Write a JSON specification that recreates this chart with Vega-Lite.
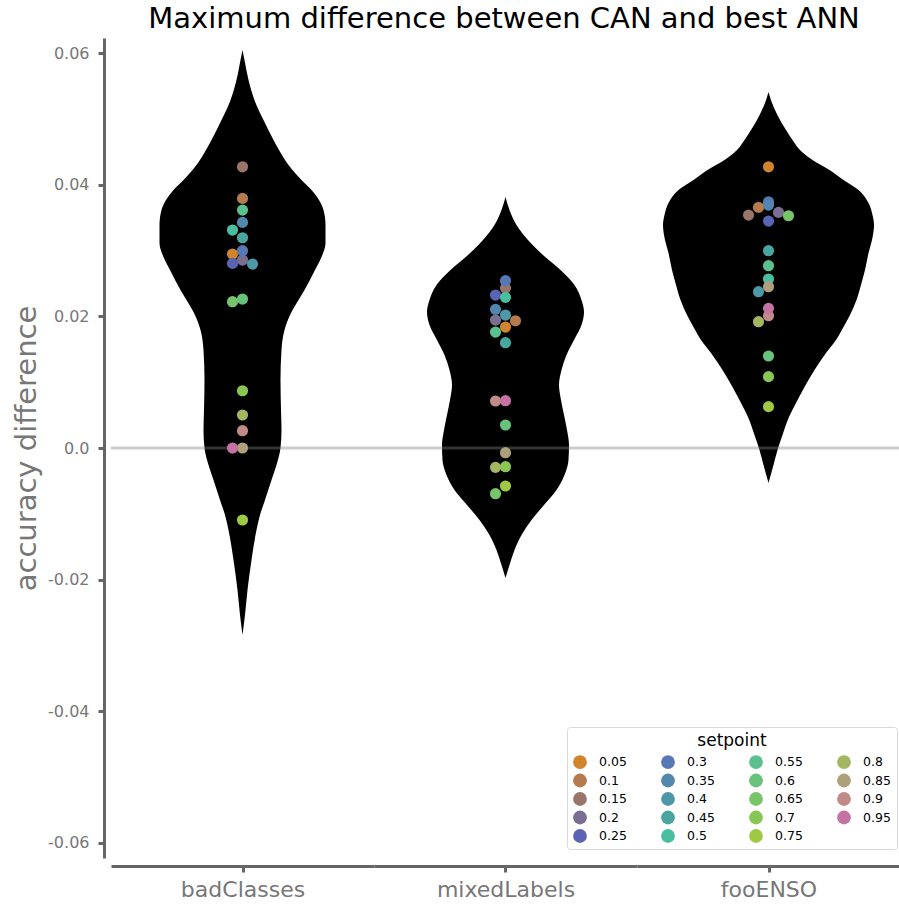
{
  "$schema": "https://vega.github.io/schema/vega-lite/v6.json",
  "background": "white",
  "autosize": {"type": "pad"},
  "padding": {"left": 12, "top": 5, "right": 0, "bottom": 0},
  "bounds": "flush",
  "title": {"text": "Maximum difference between CAN and best ANN", "fontSize": 29, "fontWeight": "normal", "color": "black", "anchor": "middle", "offset": 4, "dx": 47},
  "datasets": {
    "violin": [
      {"task": "badClasses", "value": 0.06046, "density": 0},
      {"task": "badClasses", "value": 0.05894, "density": 0.8},
      {"task": "badClasses", "value": 0.0559, "density": 2.4},
      {"task": "badClasses", "value": 0.05286, "density": 4.8},
      {"task": "badClasses", "value": 0.04983, "density": 8.4},
      {"task": "badClasses", "value": 0.04679, "density": 12.4},
      {"task": "badClasses", "value": 0.04527, "density": 14.6},
      {"task": "badClasses", "value": 0.04299, "density": 18.4},
      {"task": "badClasses", "value": 0.04071, "density": 23.6},
      {"task": "badClasses", "value": 0.03919, "density": 27.6},
      {"task": "badClasses", "value": 0.03767, "density": 30.6},
      {"task": "badClasses", "value": 0.03615, "density": 32.4},
      {"task": "badClasses", "value": 0.03388, "density": 33.2},
      {"task": "badClasses", "value": 0.03114, "density": 33.2},
      {"task": "badClasses", "value": 0.02901, "density": 31.6},
      {"task": "badClasses", "value": 0.02704, "density": 29},
      {"task": "badClasses", "value": 0.024, "density": 24.8},
      {"task": "badClasses", "value": 0.02248, "density": 22.4},
      {"task": "badClasses", "value": 0.02051, "density": 19.4},
      {"task": "badClasses", "value": 0.01793, "density": 16.8},
      {"task": "badClasses", "value": 0.01489, "density": 15.6},
      {"task": "badClasses", "value": 0.01033, "density": 15.2},
      {"task": "badClasses", "value": 0.00577, "density": 15.4},
      {"task": "badClasses", "value": 0.00273, "density": 15.6},
      {"task": "badClasses", "value": 0.0, "density": 15.2},
      {"task": "badClasses", "value": -0.00258, "density": 13.6},
      {"task": "badClasses", "value": -0.00486, "density": 11.6},
      {"task": "badClasses", "value": -0.0079, "density": 9},
      {"task": "badClasses", "value": -0.01018, "density": 7},
      {"task": "badClasses", "value": -0.01246, "density": 5.6},
      {"task": "badClasses", "value": -0.01701, "density": 3.6},
      {"task": "badClasses", "value": -0.02157, "density": 2},
      {"task": "badClasses", "value": -0.02537, "density": 1},
      {"task": "badClasses", "value": -0.02841, "density": 0},
      {"task": "mixedLabels", "value": 0.03813, "density": 0},
      {"task": "mixedLabels", "value": 0.03615, "density": 1.6},
      {"task": "mixedLabels", "value": 0.03388, "density": 4.4},
      {"task": "mixedLabels", "value": 0.0316, "density": 9},
      {"task": "mixedLabels", "value": 0.02932, "density": 15},
      {"task": "mixedLabels", "value": 0.02704, "density": 22},
      {"task": "mixedLabels", "value": 0.02476, "density": 27.6},
      {"task": "mixedLabels", "value": 0.02248, "density": 30.4},
      {"task": "mixedLabels", "value": 0.02066, "density": 31.4},
      {"task": "mixedLabels", "value": 0.01868, "density": 30.4},
      {"task": "mixedLabels", "value": 0.01641, "density": 27.4},
      {"task": "mixedLabels", "value": 0.01413, "density": 24.4},
      {"task": "mixedLabels", "value": 0.01185, "density": 22.4},
      {"task": "mixedLabels", "value": 0.00957, "density": 21.4},
      {"task": "mixedLabels", "value": 0.00729, "density": 22.2},
      {"task": "mixedLabels", "value": 0.00501, "density": 23.4},
      {"task": "mixedLabels", "value": 0.00273, "density": 24.6},
      {"task": "mixedLabels", "value": 0.00046, "density": 25.4},
      {"task": "mixedLabels", "value": -0.00182, "density": 25.2},
      {"task": "mixedLabels", "value": -0.0041, "density": 23.6},
      {"task": "mixedLabels", "value": -0.00638, "density": 20.4},
      {"task": "mixedLabels", "value": -0.00866, "density": 15.4},
      {"task": "mixedLabels", "value": -0.01094, "density": 10.4},
      {"task": "mixedLabels", "value": -0.01322, "density": 6.4},
      {"task": "mixedLabels", "value": -0.01549, "density": 3.6},
      {"task": "mixedLabels", "value": -0.01777, "density": 1.6},
      {"task": "mixedLabels", "value": -0.01975, "density": 0},
      {"task": "fooENSO", "value": 0.05408, "density": 0},
      {"task": "fooENSO", "value": 0.05286, "density": 1},
      {"task": "fooENSO", "value": 0.05058, "density": 3.6},
      {"task": "fooENSO", "value": 0.04831, "density": 7},
      {"task": "fooENSO", "value": 0.04679, "density": 9.6},
      {"task": "fooENSO", "value": 0.04527, "density": 12.6},
      {"task": "fooENSO", "value": 0.04375, "density": 17.6},
      {"task": "fooENSO", "value": 0.04223, "density": 24.4},
      {"task": "fooENSO", "value": 0.04071, "density": 30},
      {"task": "fooENSO", "value": 0.03919, "density": 36},
      {"task": "fooENSO", "value": 0.03722, "density": 40},
      {"task": "fooENSO", "value": 0.03539, "density": 41.6},
      {"task": "fooENSO", "value": 0.03388, "density": 42.2},
      {"task": "fooENSO", "value": 0.0316, "density": 41.4},
      {"task": "fooENSO", "value": 0.02962, "density": 40},
      {"task": "fooENSO", "value": 0.02704, "density": 38.6},
      {"task": "fooENSO", "value": 0.02506, "density": 37.2},
      {"task": "fooENSO", "value": 0.02248, "density": 35.2},
      {"task": "fooENSO", "value": 0.0202, "density": 32.6},
      {"task": "fooENSO", "value": 0.01838, "density": 30},
      {"task": "fooENSO", "value": 0.01641, "density": 27},
      {"task": "fooENSO", "value": 0.01443, "density": 23},
      {"task": "fooENSO", "value": 0.01185, "density": 18.4},
      {"task": "fooENSO", "value": 0.00927, "density": 14.4},
      {"task": "fooENSO", "value": 0.00684, "density": 11},
      {"task": "fooENSO", "value": 0.00471, "density": 8.2},
      {"task": "fooENSO", "value": 0.00197, "density": 5.6},
      {"task": "fooENSO", "value": -0.0003, "density": 3.6},
      {"task": "fooENSO", "value": -0.00258, "density": 2},
      {"task": "fooENSO", "value": -0.00532, "density": 0}
    ],
    "points": [
      {"task": "badClasses", "setpoint": "0.05", "value": 0.02947},
      {"task": "badClasses", "setpoint": "0.1", "value": 0.03793},
      {"task": "badClasses", "setpoint": "0.15", "value": 0.04273},
      {"task": "badClasses", "setpoint": "0.2", "value": 0.02856},
      {"task": "badClasses", "setpoint": "0.25", "value": 0.02805},
      {"task": "badClasses", "setpoint": "0.3", "value": 0.02998},
      {"task": "badClasses", "setpoint": "0.35", "value": 0.03428},
      {"task": "badClasses", "setpoint": "0.4", "value": 0.02795},
      {"task": "badClasses", "setpoint": "0.45", "value": 0.03195},
      {"task": "badClasses", "setpoint": "0.5", "value": 0.03312},
      {"task": "badClasses", "setpoint": "0.55", "value": 0.03615},
      {"task": "badClasses", "setpoint": "0.6", "value": 0.02263},
      {"task": "badClasses", "setpoint": "0.65", "value": 0.02223},
      {"task": "badClasses", "setpoint": "0.7", "value": 0.0087},
      {"task": "badClasses", "setpoint": "0.75", "value": -0.01094},
      {"task": "badClasses", "setpoint": "0.8", "value": 0.00501},
      {"task": "badClasses", "setpoint": "0.85", "value": 0.0},
      {"task": "badClasses", "setpoint": "0.9", "value": 0.00263},
      {"task": "badClasses", "setpoint": "0.95", "value": 0.0},
      {"task": "mixedLabels", "setpoint": "0.05", "value": 0.01838},
      {"task": "mixedLabels", "setpoint": "0.1", "value": 0.01934},
      {"task": "mixedLabels", "setpoint": "0.15", "value": 0.0243},
      {"task": "mixedLabels", "setpoint": "0.2", "value": 0.01944},
      {"task": "mixedLabels", "setpoint": "0.25", "value": 0.02324},
      {"task": "mixedLabels", "setpoint": "0.3", "value": 0.02542},
      {"task": "mixedLabels", "setpoint": "0.35", "value": 0.02107},
      {"task": "mixedLabels", "setpoint": "0.4", "value": 0.0202},
      {"task": "mixedLabels", "setpoint": "0.45", "value": 0.016},
      {"task": "mixedLabels", "setpoint": "0.5", "value": 0.02289},
      {"task": "mixedLabels", "setpoint": "0.55", "value": 0.01762},
      {"task": "mixedLabels", "setpoint": "0.6", "value": 0.00349},
      {"task": "mixedLabels", "setpoint": "0.65", "value": -0.00694},
      {"task": "mixedLabels", "setpoint": "0.7", "value": -0.00284},
      {"task": "mixedLabels", "setpoint": "0.75", "value": -0.00577},
      {"task": "mixedLabels", "setpoint": "0.8", "value": -0.00294},
      {"task": "mixedLabels", "setpoint": "0.85", "value": -0.00071},
      {"task": "mixedLabels", "setpoint": "0.9", "value": 0.00714},
      {"task": "mixedLabels", "setpoint": "0.95", "value": 0.00719},
      {"task": "fooENSO", "setpoint": "0.05", "value": 0.04273},
      {"task": "fooENSO", "setpoint": "0.1", "value": 0.03656},
      {"task": "fooENSO", "setpoint": "0.15", "value": 0.03539},
      {"task": "fooENSO", "setpoint": "0.2", "value": 0.0358},
      {"task": "fooENSO", "setpoint": "0.25", "value": 0.03448},
      {"task": "fooENSO", "setpoint": "0.3", "value": 0.03742},
      {"task": "fooENSO", "setpoint": "0.35", "value": 0.03691},
      {"task": "fooENSO", "setpoint": "0.4", "value": 0.02375},
      {"task": "fooENSO", "setpoint": "0.45", "value": 0.02998},
      {"task": "fooENSO", "setpoint": "0.5", "value": 0.02567},
      {"task": "fooENSO", "setpoint": "0.55", "value": 0.0277},
      {"task": "fooENSO", "setpoint": "0.6", "value": 0.01398},
      {"task": "fooENSO", "setpoint": "0.65", "value": 0.03529},
      {"task": "fooENSO", "setpoint": "0.7", "value": 0.01084},
      {"task": "fooENSO", "setpoint": "0.75", "value": 0.00628},
      {"task": "fooENSO", "setpoint": "0.8", "value": 0.01919},
      {"task": "fooENSO", "setpoint": "0.85", "value": 0.0245},
      {"task": "fooENSO", "setpoint": "0.9", "value": 0.0201},
      {"task": "fooENSO", "setpoint": "0.95", "value": 0.02122}
    ]
  },
  "spacing": 0,
  "hconcat": [
    {
      "width": 263, "height": 820,
      "layer": [
        {
          "data": {"name": "violin"},
          "transform": [{"filter": {"field": "task", "equal": "badClasses"}}],
          "mark": {"type": "area", "orient": "horizontal", "color": "black", "opacity": 1, "interpolate": "monotone"},
          "encoding": {
            "y": {"field": "value", "type": "quantitative", "title": "accuracy difference", "scale": {"domain": [-0.0623, 0.0623], "nice": false, "zero": false}, "axis": {"values": [-0.06, -0.04, -0.02, 0, 0.02, 0.04, 0.06], "labelExpr": "datum.value == 0 ? '0.0' : (datum.value < 0 ? '-' + format(-datum.value, '.2f') : format(datum.value, '.2f'))"}},
            "x": {"field": "density", "type": "quantitative", "stack": "center", "title": "badClasses", "scale": {"domain": [-9.7, 42.9], "nice": false, "zero": false}, "axis": {"values": [16.6], "labels": false}}
          }
        },
        {
          "data": {"name": "violin"},
          "transform": [{"filter": {"field": "task", "equal": "badClasses"}}, {"aggregate": [{"op": "count", "as": "n"}]}],
          "mark": {"type": "rule", "color": "#808080", "opacity": 0.4, "strokeWidth": 3},
          "encoding": {"y": {"datum": 0, "type": "quantitative", "title": "accuracy difference"}}
        },
        {
          "data": {"name": "points"},
          "transform": [
            {"filter": {"field": "task", "equal": "badClasses"}},
            {"bin": {"step": 0.002, "anchor": 0.001}, "field": "value", "as": "vbin"},
            {"window": [{"op": "row_number", "as": "slot"}], "groupby": ["vbin"], "sort": [{"field": "value", "order": "descending"}]}
          ],
          "mark": {"type": "circle", "size": 125, "opacity": 1},
          "encoding": {
            "x": {"datum": 16.6, "type": "quantitative", "title": "badClasses"},
            "xOffset": {"field": "slot", "type": "ordinal", "scale": {"type": "point", "domain": [4, 2, 1, 3, 5], "range": [-25, 25]}},
            "y": {"field": "value", "type": "quantitative", "title": "accuracy difference"},
            "color": {
              "field": "setpoint", "type": "nominal",
              "scale": {
                "domain": ["0.05", "0.1", "0.15", "0.2", "0.25", "0.3", "0.35", "0.4", "0.45", "0.5", "0.55", "0.6", "0.65", "0.7", "0.75", "0.8", "0.85", "0.9", "0.95"],
                "range": ["#D0842C", "#B57B4C", "#997569", "#7A6E92", "#5A63B4", "#5877B5", "#5286AD", "#4D97A7", "#49A69F", "#4ABF9F", "#5BC08E", "#67C27C", "#77C469", "#89C653", "#9FC942", "#A5B660", "#AFA07C", "#BF8A88", "#C573A3"]
              },
              "legend": {
                "title": "setpoint", "orient": "none", "legendX": 456, "legendY": 689,
                "columns": 4, "gridAlign": "all", "columnPadding": 34, "rowPadding": 4.5,
                "symbolType": "circle", "symbolSize": 190, "symbolStrokeWidth": 0, "symbolOpacity": 1,
                "labelFontSize": 12.5, "labelColor": "black", "labelOffset": 12,
                "titleFontSize": 17, "titleFontWeight": "normal", "titleColor": "black", "titleAnchor": "middle", "titlePadding": 5,
                "strokeColor": "#d9d9d9", "fillColor": "white", "padding": 6, "cornerRadius": 3
              }
            }
          }
        }
      ]
    },
    {
      "width": 263, "height": 820,
      "layer": [
        {
          "data": {"name": "violin"},
          "transform": [{"filter": {"field": "task", "equal": "mixedLabels"}}],
          "mark": {"type": "area", "orient": "horizontal", "color": "black", "opacity": 1, "interpolate": "monotone"},
          "encoding": {
            "y": {"field": "value", "type": "quantitative", "scale": {"domain": [-0.0623, 0.0623], "nice": false, "zero": false}, "axis": null},
            "x": {"field": "density", "type": "quantitative", "stack": "center", "title": "mixedLabels", "scale": {"domain": [-10.6, 42.0], "nice": false, "zero": false}, "axis": {"values": [15.7], "labels": false}}
          }
        },
        {
          "data": {"name": "violin"},
          "transform": [{"filter": {"field": "task", "equal": "mixedLabels"}}, {"aggregate": [{"op": "count", "as": "n"}]}],
          "mark": {"type": "rule", "color": "#808080", "opacity": 0.4, "strokeWidth": 3},
          "encoding": {"y": {"datum": 0, "type": "quantitative", "axis": null}}
        },
        {
          "data": {"name": "points"},
          "transform": [
            {"filter": {"field": "task", "equal": "mixedLabels"}},
            {"bin": {"step": 0.002, "anchor": 0.001}, "field": "value", "as": "vbin"},
            {"window": [{"op": "row_number", "as": "slot"}], "groupby": ["vbin"], "sort": [{"field": "value", "order": "descending"}]}
          ],
          "mark": {"type": "circle", "size": 125, "opacity": 1},
          "encoding": {
            "x": {"datum": 15.7, "type": "quantitative", "title": "mixedLabels"},
            "xOffset": {"field": "slot", "type": "ordinal", "scale": {"type": "point", "domain": [4, 2, 1, 3, 5], "range": [-25, 25]}},
            "y": {"field": "value", "type": "quantitative", "axis": null},
            "color": {
              "field": "setpoint", "type": "nominal",
              "scale": {
                "domain": ["0.05", "0.1", "0.15", "0.2", "0.25", "0.3", "0.35", "0.4", "0.45", "0.5", "0.55", "0.6", "0.65", "0.7", "0.75", "0.8", "0.85", "0.9", "0.95"],
                "range": ["#D0842C", "#B57B4C", "#997569", "#7A6E92", "#5A63B4", "#5877B5", "#5286AD", "#4D97A7", "#49A69F", "#4ABF9F", "#5BC08E", "#67C27C", "#77C469", "#89C653", "#9FC942", "#A5B660", "#AFA07C", "#BF8A88", "#C573A3"]
              }
            }
          }
        }
      ]
    },
    {
      "width": 263, "height": 820,
      "layer": [
        {
          "data": {"name": "violin"},
          "transform": [{"filter": {"field": "task", "equal": "fooENSO"}}],
          "mark": {"type": "area", "orient": "horizontal", "color": "black", "opacity": 1, "interpolate": "monotone"},
          "encoding": {
            "y": {"field": "value", "type": "quantitative", "scale": {"domain": [-0.0623, 0.0623], "nice": false, "zero": false}, "axis": null},
            "x": {"field": "density", "type": "quantitative", "stack": "center", "title": "fooENSO", "scale": {"domain": [-5.2, 47.4], "nice": false, "zero": false}, "axis": {"values": [21.1], "labels": false}}
          }
        },
        {
          "data": {"name": "violin"},
          "transform": [{"filter": {"field": "task", "equal": "fooENSO"}}, {"aggregate": [{"op": "count", "as": "n"}]}],
          "mark": {"type": "rule", "color": "#808080", "opacity": 0.4, "strokeWidth": 3},
          "encoding": {"y": {"datum": 0, "type": "quantitative", "axis": null}}
        },
        {
          "data": {"name": "points"},
          "transform": [
            {"filter": {"field": "task", "equal": "fooENSO"}},
            {"bin": {"step": 0.002, "anchor": 0.001}, "field": "value", "as": "vbin"},
            {"window": [{"op": "row_number", "as": "slot"}], "groupby": ["vbin"], "sort": [{"field": "value", "order": "descending"}]}
          ],
          "mark": {"type": "circle", "size": 125, "opacity": 1},
          "encoding": {
            "x": {"datum": 21.1, "type": "quantitative", "title": "fooENSO"},
            "xOffset": {"field": "slot", "type": "ordinal", "scale": {"type": "point", "domain": [4, 2, 1, 3, 5], "range": [-25, 25]}},
            "y": {"field": "value", "type": "quantitative", "axis": null},
            "color": {
              "field": "setpoint", "type": "nominal",
              "scale": {
                "domain": ["0.05", "0.1", "0.15", "0.2", "0.25", "0.3", "0.35", "0.4", "0.45", "0.5", "0.55", "0.6", "0.65", "0.7", "0.75", "0.8", "0.85", "0.9", "0.95"],
                "range": ["#D0842C", "#B57B4C", "#997569", "#7A6E92", "#5A63B4", "#5877B5", "#5286AD", "#4D97A7", "#49A69F", "#4ABF9F", "#5BC08E", "#67C27C", "#77C469", "#89C653", "#9FC942", "#A5B660", "#AFA07C", "#BF8A88", "#C573A3"]
              }
            }
          }
        }
      ]
    }
  ],
  "config": {
    "font": "DejaVu Sans",
    "view": {"stroke": null},
    "axis": {"grid": false},
    "axisY": {
      "domainColor": "#666666", "domainWidth": 3, "tickColor": "#666666", "tickWidth": 3, "tickSize": 6,
      "labelColor": "#777777", "labelFontSize": 16, "labelPadding": 9, "offset": 7,
      "titleFontSize": 29, "titleColor": "#777777", "titleFontWeight": "normal", "titlePadding": 6
    },
    "axisX": {
      "domainColor": "#666666", "domainWidth": 3, "tickColor": "#666666", "tickWidth": 3, "tickSize": 6, "offset": 8,
      "titleColor": "#777777", "titleFontSize": 22, "titleFontWeight": "normal", "titlePadding": 6
    }
  }
}
